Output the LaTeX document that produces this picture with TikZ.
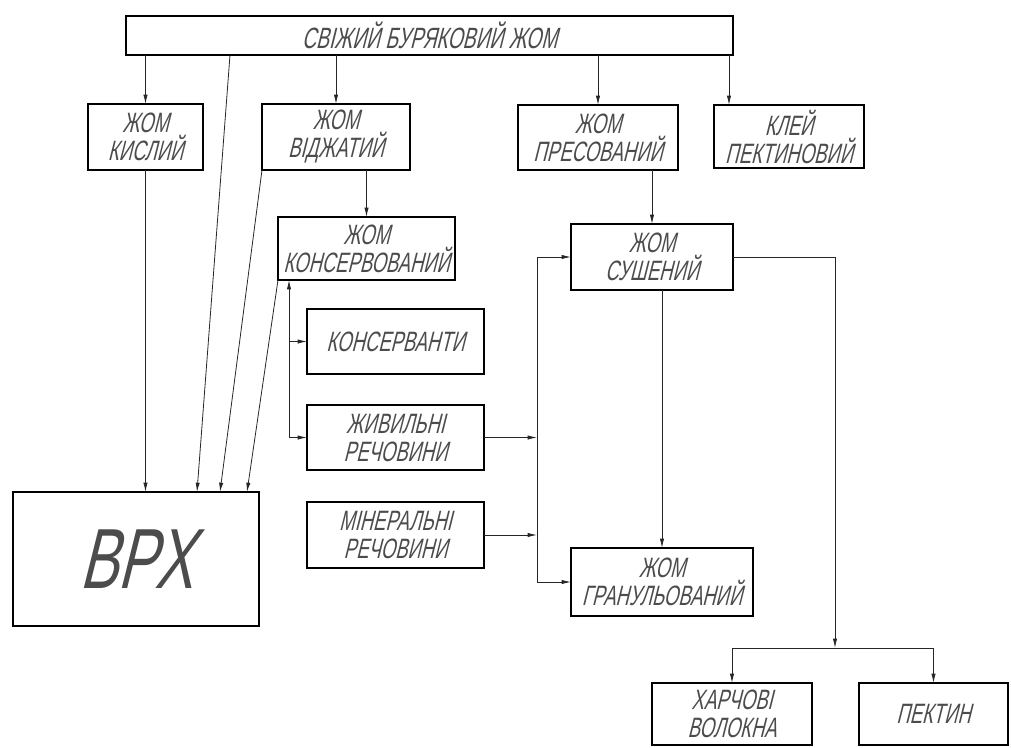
\documentclass[tikz,border=0pt]{standalone}
\usepackage{fontspec}
\newfontfamily\gost{Liberation Sans}[FakeStretch=0.66,FakeSlant=0.25]
\newfontfamily\gostw{Liberation Sans}[FakeStretch=0.68,FakeSlant=0.25]
\usetikzlibrary{arrows.meta,calc}
\tikzset{
  box/.style={draw=black, line width=1.1pt, inner sep=0pt, outer sep=0pt,
    font=\gost\fontsize{21}{21}\selectfont, text=black!70, align=center},
  conn/.style={draw=black!85, line width=0.6pt},
  arr/.style={conn, -{Latex[length=7pt,width=3.2pt]}}
}
\newcommand\gbox[7][]{\node[box,#1, minimum width={(#5-#3)*0.75pt}, minimum height={(#6-#4)*0.75pt}] (#2) at ({(#3+#5)/2},{(#4+#6)/2}) {#7};}
\begin{document}
\begin{tikzpicture}[x=0.75pt,y=-0.75pt]
\useasboundingbox (0,0) rectangle (1011,747);
\gbox[font=\gost\fontsize{22}{22}\selectfont]{top}{126}{16}{733}{55}{СВІЖИЙ БУРЯКОВИЙ ЖОМ}
\gbox{kys}{88}{104}{203}{170}{ЖОМ\\КИСЛИЙ}
\gbox{vidz}{262}{104}{410}{170}{ЖОМ\\ВІДЖАТИЙ}
\gbox{pres}{518}{105}{678}{170}{ЖОМ\\ПРЕСОВАНИЙ}
\gbox{klei}{714}{105}{864}{168}{КЛЕЙ\\ПЕКТИНОВИЙ}
\gbox{kons}{278}{217}{455}{280}{ЖОМ\\КОНСЕРВОВАНИЙ}
\gbox{konsv}{307}{309}{484}{374}{КОНСЕРВАНТИ}
\gbox{zhyv}{307}{405}{484}{470}{ЖИВИЛЬНІ\\РЕЧОВИНИ}
\gbox{miner}{307}{502}{484}{568}{МІНЕРАЛЬНІ\\РЕЧОВИНИ}
\gbox{sush}{571}{224}{733}{290}{ЖОМ\\СУШЕНИЙ}
\gbox{gran}{571}{548}{753}{616}{ЖОМ\\ГРАНУЛЬОВАНИЙ}
\gbox[font=\gostw\fontsize{64}{64}\selectfont]{vrh}{13}{492}{259}{626}{ВРХ}
\gbox{harch}{652}{683}{812}{745}{ХАРЧОВІ\\ВОЛОКНА}
\gbox{pekt}{859}{683}{1008}{745}{ПЕКТИН}
% junction coordinates
\coordinate (s1) at ($(top.south west)+(104,0)$);
\coordinate (kl) at ($(klei.north west)+(15,0)$);
\coordinate (vx) at (289,0);
\coordinate (rx) at (537,0);
\coordinate (j) at (835,648);
% from top
\draw[arr] (top.south -| kys.north) -- (kys.north);
\draw[arr] (top.south -| vidz.north) -- (vidz.north);
\draw[arr] (top.south -| pres.north) -- (pres.north);
\draw[arr] (top.south -| kl) -- (kl);
% to VRH
\draw[arr] (kys.south) -- (kys.south |- vrh.north);
\draw[arr] (s1) -- ($(vrh.north west)+(184,0)$);
\draw[arr] (vidz.south west) -- ($(vrh.north west)+(207,0)$);
\draw[arr] (kons.south west) -- ($(vrh.north west)+(234,0)$);
% vidz -> kons
\draw[arr] (vidz.south -| kons.north) -- (kons.north);
% additives -> kons
\draw[arr] (zhyv.west -| vx) -- (kons.south -| vx);
\draw[arr] (konsv.west -| vx) -- (konsv.west);
\draw[arr] (zhyv.west -| vx) -- (zhyv.west);
% to dried / granulated
\draw[arr] (zhyv.east) -- (zhyv.east -| rx);
\draw[arr] (miner.east) -- (miner.east -| rx);
\draw[conn] (sush.west -| rx) -- (gran.west -| rx);
\draw[arr] (sush.west -| rx) -- (sush.west);
\draw[arr] (gran.west -| rx) -- (gran.west);
\draw[arr] (pres.south -| sush.north) -- (sush.north);
\draw[arr] (sush.south -| gran.north) -- (gran.north);
% to fibres / pectin
\draw[arr] (sush.east) -| (j);
\draw[conn] (j -| harch.north) -- (j -| pekt.north);
\draw[arr] (j -| harch.north) -- (harch.north);
\draw[arr] (j -| pekt.north) -- (pekt.north);
\end{tikzpicture}
\end{document}
